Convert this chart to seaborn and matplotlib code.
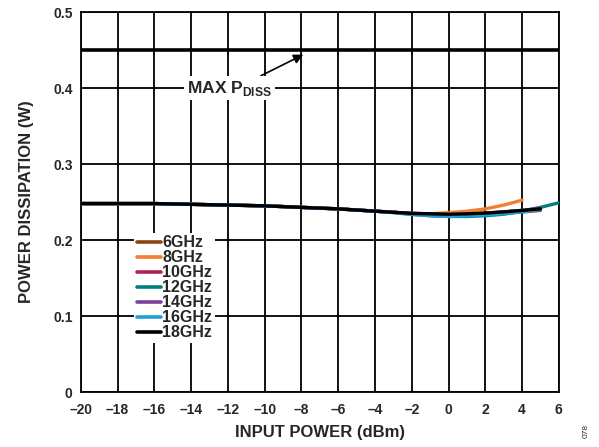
import numpy as np
import pandas as pd
import matplotlib
matplotlib.use("Agg")
import matplotlib.pyplot as plt
import seaborn as sns

sns.set_style("white")
plt.rcParams['font.family'] = ['Liberation Sans', 'DejaVu Sans']
plt.rcParams['font.weight'] = 'bold'
plt.rcParams['mathtext.fontset'] = 'custom'
plt.rcParams['mathtext.rm'] = 'Liberation Sans:bold'
plt.rcParams['mathtext.bf'] = 'Liberation Sans:bold'

## data
freqs = ["6GHz", "8GHz", "10GHz", "12GHz", "14GHz", "16GHz", "18GHz"]
colors = ["#8B4513", "#F08030", "#B0205A", "#00807A", "#7B3F9E", "#1E9FD8", "#000000"]

base = [0.248, 0.248, 0.248, 0.248, 0.248, 0.2475, 0.247, 0.2465, 0.246, 0.2455, 0.245, 0.244, 0.243, 0.242, 0.241, 0.2395, 0.238, 0.2365, 0.235, 0.2345, 0.234, 0.2345, 0.2355, 0.237, 0.239, 0.241]

p6 = base[:25]
p8 = base[:20] + [0.236, 0.238, 0.241, 0.246, 0.2525]
p10 = base[:20] + [0.233, 0.233, 0.234, 0.235, 0.237, 0.239]
p12 = base[:17] + [0.2365, 0.234, 0.232, 0.231, 0.231, 0.232, 0.234, 0.238, 0.243, 0.249, 0.256]
p14 = base[:20] + [0.233, 0.234, 0.235, 0.237, 0.239, 0.242]
p16 = base[:17] + [0.2360, 0.2335, 0.232, 0.231, 0.232, 0.233, 0.235, 0.237, 0.240]
p18 = base[:26]
series = [p6, p8, p10, p12, p14, p16, p18]

rows = []
for f, vals in zip(freqs, series):
    for x, v in zip(range(-20, -20 + len(vals)), vals):
        rows.append({"pin": x, "pd": v, "freq": f})
df = pd.DataFrame(rows)

max_pdiss = 0.45

fig = plt.figure(figsize=(5.99, 4.47), dpi=100)
ax = fig.add_axes([0.135, 0.123, 0.798, 0.85])

sns.lineplot(data=df, x="pin", y="pd", hue="freq", hue_order=freqs,
             palette=dict(zip(freqs, colors)), linewidth=2.4, ax=ax, zorder=3)

ax.axhline(max_pdiss, color="black", lw=2.6, zorder=4)

ax.set_xlim(-20, 6)
ax.set_ylim(0, 0.5)
ax.set_xticks(np.arange(-20, 7, 2))
ax.set_xticklabels([("\u2013" + str(abs(t))) if t < 0 else str(t) for t in range(-20, 7, 2)])
ax.set_yticks(np.arange(0, 0.51, 0.1))
ax.set_yticklabels(["0", "0.1", "0.2", "0.3", "0.4", "0.5"])
ax.grid(True, color="black", lw=1.3)
for s in ax.spines.values():
    s.set_color("black")
    s.set_linewidth(1.3)
ax.tick_params(labelsize=10, length=0)
ax.tick_params(axis="x", pad=8)
ax.tick_params(axis="y", pad=6)
ax.set_xlabel("INPUT POWER (dBm)", fontsize=12, fontweight="bold", labelpad=6)
ax.set_ylabel("POWER DISSIPATION (W)", fontsize=12, fontweight="bold", labelpad=14)

ax.annotate(r"MAX P$_{\mathbf{DISS}}$", xy=(-7.9, 0.444), xytext=(-11.9, 0.40),
            ha="center", va="center", fontsize=12.5, fontweight="bold",
            bbox=dict(facecolor="white", edgecolor="none", pad=2),
            arrowprops=dict(arrowstyle="-|>", color="black", lw=1.2, mutation_scale=14,
                            shrinkA=0, shrinkB=0, relpos=(0.8, 1.0)),
            zorder=5)

leg = ax.legend(loc="upper left", bbox_to_anchor=(0.095, 0.44), frameon=True,
                handlelength=1.5, handletextpad=0.1, labelspacing=0.0,
                borderpad=0.15, prop={"weight": "bold", "size": 11.5})
leg.get_frame().set_edgecolor("none")
leg.get_frame().set_facecolor("white")
leg.get_frame().set_alpha(1)
leg.set_zorder(6)
for line in leg.get_lines():
    line.set_linewidth(2.6)

fig.text(0.978, 0.035, "078", rotation=90, fontsize=6, fontweight="normal", ha="center", va="center")

fig.savefig("out.png", dpi=100)
